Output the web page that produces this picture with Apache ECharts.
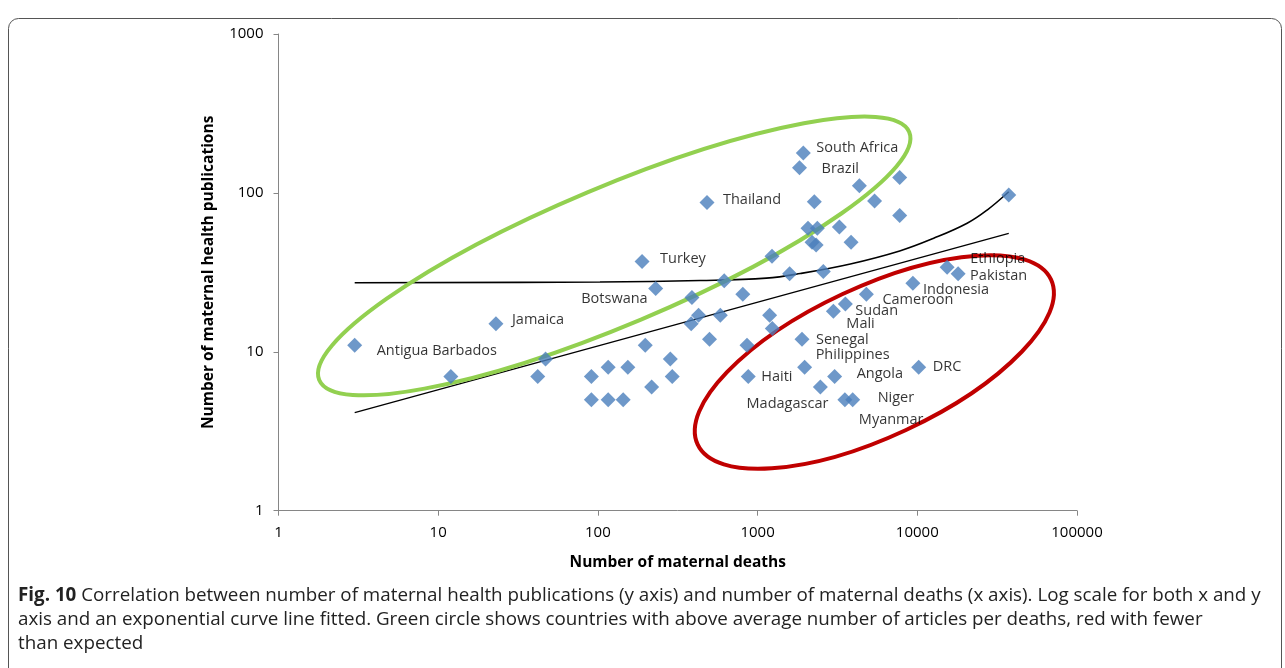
<!DOCTYPE html>
<html><head><meta charset="utf-8">
<script src="https://cdn.jsdelivr.net/npm/echarts@6/dist/echarts.min.js"></script>
<style>html,body{margin:0;padding:0;background:#fff;} #c{width:1285px;height:668px;}</style>
</head><body><div id="c"></div>
<script>
// ---- data ----
const countries = ['Antigua Barbados','','Jamaica','','','','','','','','',
  'Turkey','','Botswana','','','','Thailand','','','','','','','','','Haiti',
  '','','','','Senegal','Philippines','Madagascar','Angola','Mali','Sudan','Myanmar','Niger','Cameroon','',
  'South Africa','Brazil','','','','','','','','','','','',
  'Indonesia','DRC','Ethiopia','Pakistan',''];
const deaths = [3,12,23,47,42,91,91,116,116,154,144,
  189,198,230,217,284,292,482,388,427,384,500,584,618,808,858,874,
  1189,1236,1231,1587,1897,1970,2472,3037,2981,3544,3519,3938,4799,2580,
  1933,1830,2266,2069,2366,3250,3847,2192,2325,4337,5401,7756,7756,
  9384,10204,15373,18010,37380];
const publications = [11,7,15,9,7,7,5,8,5,8,5,
  37,11,25,6,9,7,87,22,17,15,12,17,28,23,11,7,
  17,14,40,31,12,8,6,7,18,20,5,5,23,32,
  178,144,88,60,60,61,49,49,47,111,89,125,72,
  27,8,34,31,97];
// power trend line (straight on log-log) end points
const powerFitDeaths = [3, 37380];
const powerFitPubs = [4.14, 55.7];
// exponential trend curve
const curveDeaths = [3, 103, 437, 1134, 1851, 3809, 7756, 12667, 20512, 27362, 37380];
const curvePubs = [27.2, 27.5, 28.1, 29.1, 31.1, 35.7, 43.1, 51.8, 64.4, 78, 101.7];
// highlighted groups (ellipse centres, data space)
const groupNames = ['above expected', 'fewer than expected'];
const groupCenterDeaths = [126.5, 5383];
const groupCenterPubs = [40.1, 8.63];
const xTicks = [1, 10, 100, 1000, 10000, 100000];
const yTicks = [1, 10, 100, 1000];

// ---- styling ----
const ellipseStyle = [
  {rx: 320, ry: 69, rot: 22.8, color: '#92D050', width: 4},
  {rx: 195, ry: 75, rot: 25, color: '#C00000', width: 4}
];
const labelPlace = {
  'Antigua Barbados': ['left', 22, 6],
  'Jamaica': ['left', 16, -4],
  'Turkey': ['left', 18, -3],
  'Botswana': ['right', -8, 10],
  'Thailand': ['left', 16, -3],
  'South Africa': ['left', 13, -5],
  'Brazil': ['left', 22, 1],
  'Ethiopia': ['left', 23, -8],
  'Pakistan': ['left', 12, 2],
  'Indonesia': ['left', 10, 7],
  'Cameroon': ['left', 16, 6],
  'Sudan': ['left', 10, 7],
  'Mali': ['left', 13, 13],
  'Senegal': ['left', 14, 1],
  'Philippines': ['left', 11, -12],
  'Haiti': ['left', 13, 0],
  'Angola': ['left', 22, -3],
  'DRC': ['left', 14, 0],
  'Madagascar': ['right', 8, 17],
  'Niger': ['left', 25, -2],
  'Myanmar': ['left', 14, 20]
};
const FONT = '"Open Sans", "Noto Sans", sans-serif';

const scatterData = deaths.map((d, i) => {
  const name = countries[i];
  const item = {value: [d, publications[i]], name: name};
  if (name && labelPlace[name]) {
    const p = labelPlace[name];
    item.label = {show: true, position: 'inside', align: p[0], verticalAlign: 'middle',
      offset: [p[1], p[2]], formatter: name};
  }
  return item;
});

const chart = echarts.init(document.getElementById('c'), null, {renderer: 'canvas'});
const fmt = v => String(Math.round(v));
chart.setOption({
  animation: false,
  backgroundColor: '#fff',
  grid: {left: 278.5, top: 34, width: 798.5, height: 476.7, containLabel: false},
  xAxis: {
    type: 'log', logBase: 10, min: xTicks[0], max: xTicks[xTicks.length - 1],
    name: 'Number of maternal deaths', nameLocation: 'middle', nameGap: 44,
    nameTextStyle: {fontFamily: FONT, fontWeight: 'bold', fontSize: 15.5, color: '#000'},
    axisLine: {show: true, lineStyle: {color: '#868686', width: 1}},
    axisTick: {show: true, length: 5, lineStyle: {color: '#868686'}},
    minorTick: {show: false}, splitLine: {show: false},
    axisLabel: {formatter: fmt, margin: 15, fontFamily: FONT, fontSize: 15, color: '#000'}
  },
  yAxis: {
    type: 'log', logBase: 10, min: yTicks[0], max: yTicks[yTicks.length - 1],
    name: 'Number of maternal health publications', nameLocation: 'middle', nameGap: 62, nameRotate: 90,
    nameTextStyle: {fontFamily: FONT, fontWeight: 'bold', fontSize: 15.5, color: '#000'},
    axisLine: {show: true, lineStyle: {color: '#868686', width: 1}},
    axisTick: {show: true, length: 5, lineStyle: {color: '#868686'}},
    minorTick: {show: false}, splitLine: {show: false},
    axisLabel: {formatter: fmt, margin: 15, fontFamily: FONT, fontSize: 15, color: '#000'}
  },
  series: [
    {
      type: 'line', name: 'power fit', data: powerFitDeaths.map((d, i) => [d, powerFitPubs[i]]),
      showSymbol: false, lineStyle: {color: '#000', width: 1.3}, z: 2, silent: true
    },
    {
      type: 'line', name: 'exponential fit', smooth: 0.4,
      data: curveDeaths.map((d, i) => [d, curvePubs[i]]),
      showSymbol: false, lineStyle: {color: '#000', width: 1.6}, z: 2, silent: true
    },
    {
      type: 'custom', name: 'groups', z: 3, silent: true, clip: false,
      data: groupNames.map((n, i) => ({name: n, value: [groupCenterDeaths[i], groupCenterPubs[i]]})),
      renderItem: function (params, api) {
        const p = api.coord([api.value(0), api.value(1)]);
        const st = ellipseStyle[params.dataIndex];
        return {
          type: 'ellipse', x: p[0], y: p[1], rotation: st.rot * Math.PI / 180,
          shape: {cx: 0, cy: 0, rx: st.rx, ry: st.ry},
          style: {fill: 'none', stroke: st.color, lineWidth: st.width}
        };
      }
    },
    {
      type: 'scatter', name: 'countries', z: 5, symbol: 'diamond', symbolSize: 15,
      itemStyle: {color: '#4A7EBB'},
      label: {show: false, color: '#000', fontFamily: FONT, fontSize: 14.5},
      emphasis: {disabled: true},
      data: scatterData
    }
  ],
  graphic: [
    {type: 'rect', silent: true, shape: {x: 8.5, y: 18.5, width: 1273, height: 680, r: 10},
     style: {fill: 'none', stroke: '#555', lineWidth: 1}},
    {type: 'text', left: 18, top: 584, silent: true,
     style: {
       text: '{b|Fig. 10} Correlation between number of maternal health publications (y axis) and number of maternal deaths (x axis). Log scale for both x and y\naxis and an exponential curve line fitted. Green circle shows countries with above average number of articles per deaths, red with fewer\nthan expected',
       fontFamily: FONT, fontSize: 18.8, lineHeight: 24, fill: '#222',
       rich: {b: {fontFamily: FONT, fontSize: 18.8, fontWeight: 'bold', lineHeight: 24, fill: '#222'}}
     }}
  ]
});
</script></body></html>
